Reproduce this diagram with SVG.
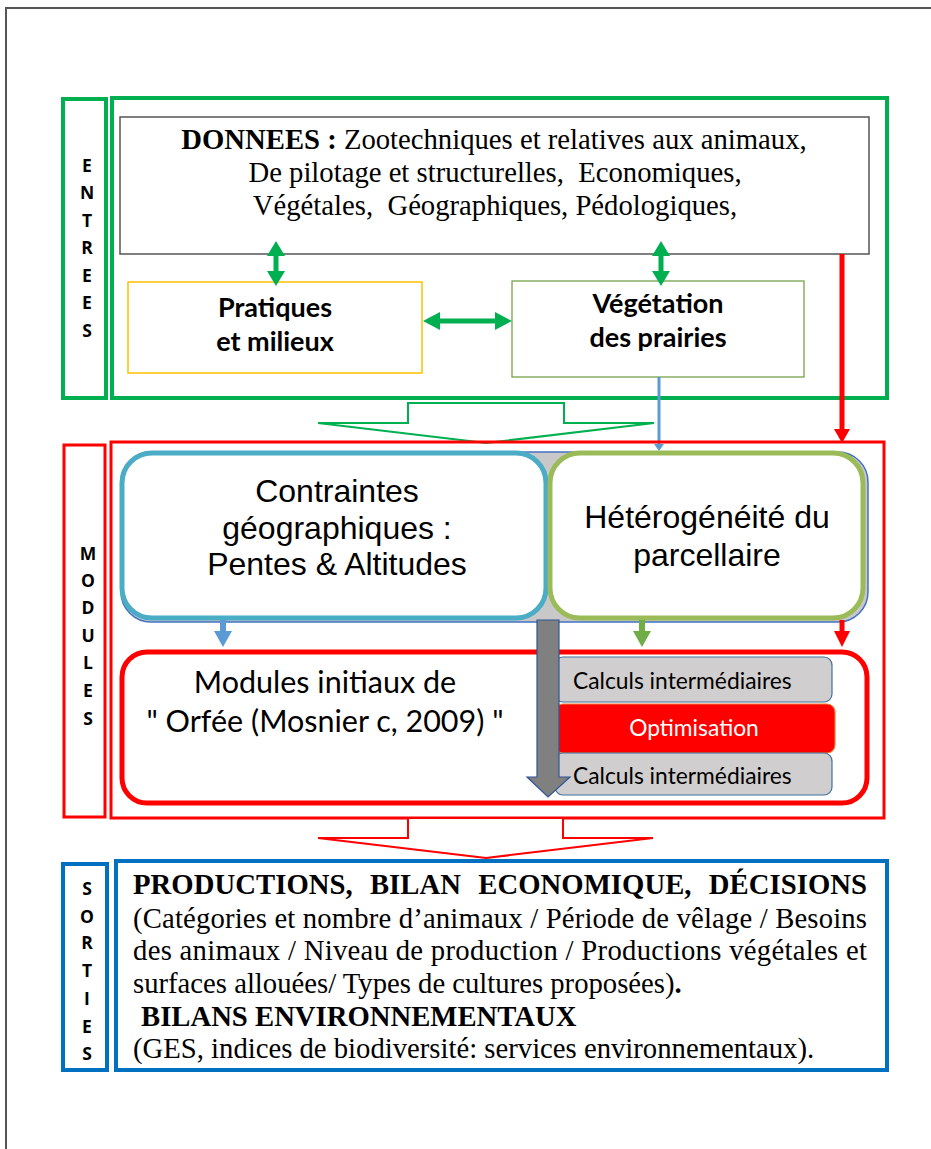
<svg xmlns="http://www.w3.org/2000/svg" width="931" height="1149" viewBox="0 0 931 1149">
<style>
.serif{font-family:"Liberation Serif","Times New Roman",serif;font-size:28.7px;fill:#000}
.sans{font-family:"Liberation Sans",Arial,sans-serif;font-size:32px;fill:#000}
.cal{font-family:Lato,"Open Sans",sans-serif;fill:#000}
.side{font-family:"Open Sans",Lato,sans-serif;font-weight:bold;font-size:17.5px;fill:#000;text-anchor:middle}
.b{font-weight:bold}
</style>
<rect width="931" height="1149" fill="#fff"/>
<path d="M6,1149 V8 H931" fill="none" stroke="#555" stroke-width="2"/>

<g id="entrees">
<rect x="63" y="99" width="43" height="299" fill="none" stroke="#00B050" stroke-width="4"/>
<text class="side"><tspan x="87" y="172">E</tspan><tspan x="87" y="199">N</tspan><tspan x="87" y="227">T</tspan><tspan x="87" y="254">R</tspan><tspan x="87" y="282">E</tspan><tspan x="87" y="309">E</tspan><tspan x="87" y="337">S</tspan></text>
<rect x="112" y="98" width="775" height="300" fill="none" stroke="#00B050" stroke-width="4"/>
</g>

<g id="donnees">
<rect x="120" y="117" width="749" height="137" fill="#fff" stroke="#555" stroke-width="1.5"/>
<text class="serif" text-anchor="middle"><tspan x="494" y="149"><tspan class="b">DONNEES :</tspan> Zootechniques et relatives aux animaux,</tspan><tspan x="495" y="182">De pilotage et structurelles, &#160;Economiques,</tspan><tspan x="495" y="215">Végétales, &#160;Géographiques, Pédologiques,</tspan></text>
</g>

<g id="pratiques">
<rect x="128" y="282" width="294" height="91" fill="#fff" stroke="#FFC000" stroke-width="1.5"/>
<text class="cal b" font-size="27" text-anchor="middle"><tspan x="275" y="317">Pratiques</tspan><tspan x="275" y="351">et milieux</tspan></text>
</g>

<g id="vegetation">
<rect x="512" y="281" width="292" height="96" fill="#fff" stroke="#6A9A3A" stroke-width="1.2"/>
<text class="cal b" font-size="27" text-anchor="middle"><tspan x="658" y="313">Végétation</tspan><tspan x="658" y="347">des prairies</tspan></text>
</g>

<g id="connectors">
<polygon points="276,241 285,256 278.5,256 278.5,271 285,271 276,286 267,271 273.5,271 273.5,256 267,256" fill="#00B050"/>
<polygon points="661,241 670,256 663.5,256 663.5,271 670,271 661,286 652,271 658.5,271 658.5,256 652,256" fill="#00B050"/>
<polygon points="423,321 440,312 440,318.5 495,318.5 495,312 512,321 495,330 495,323.5 440,323.5 440,330" fill="#00B050"/>
<line x1="842" y1="254" x2="842" y2="430" stroke="#FF0000" stroke-width="5"/>
<polygon points="834,429 850,429 842,443" fill="#FF0000"/>
<line x1="659" y1="377" x2="659" y2="446" stroke="#5B9BD5" stroke-width="3"/>
<polygon points="654,444 664,444 659,451" fill="#5B9BD5"/>
<polygon points="408,403 564,403 564,423 654,423 486,443 318,423 408,423" fill="#fff" stroke="#00B050" stroke-width="2"/>
</g>

<g id="modules">
<rect x="64" y="445" width="41" height="372" fill="none" stroke="#FF0000" stroke-width="3"/>
<text class="side"><tspan x="88" y="560">M</tspan><tspan x="88" y="587">O</tspan><tspan x="88" y="614">D</tspan><tspan x="88" y="642">U</tspan><tspan x="88" y="669">L</tspan><tspan x="88" y="697">E</tspan><tspan x="88" y="725">S</tspan></text>
<rect x="111" y="442" width="773" height="376" fill="none" stroke="#FF0000" stroke-width="3"/>
</g>

<g id="smartart-bg">
<rect x="121" y="452" width="747" height="170" rx="30" fill="#C8C8C8" stroke="#4472C4" stroke-width="1.5"/>
</g>

<g id="contraintes">
<rect x="122" y="453" width="424" height="165" rx="30" fill="#fff" stroke="#4BACC6" stroke-width="5"/>
<text class="sans" text-anchor="middle"><tspan x="337" y="502">Contraintes</tspan><tspan x="337" y="539">géographiques :</tspan><tspan x="337" y="575">Pentes &amp; Altitudes</tspan></text>
</g>

<g id="heterogeneite">
<rect x="550" y="453" width="313" height="165" rx="30" fill="#fff" stroke="#9BBB59" stroke-width="5"/>
<text class="sans" text-anchor="middle"><tspan x="707" y="528">Hétérogénéité du</tspan><tspan x="707" y="566">parcellaire</tspan></text>
</g>

<g id="connectors2">
<rect x="220" y="620" width="6" height="12" fill="#5B9BD5"/>
<polygon points="214,631 232,631 223,647" fill="#5B9BD5"/>
<rect x="639" y="620" width="6" height="12" fill="#70AD47"/>
<polygon points="633,631 651,631 642,647" fill="#70AD47"/>
<rect x="839.5" y="620" width="5" height="12" fill="#FF0000"/>
<polygon points="834,631 850,631 842,647" fill="#FF0000"/>
</g>

<g id="orfee">
<rect x="122" y="652" width="745" height="151" rx="25" fill="#fff" stroke="#FF0000" stroke-width="5"/>
<text class="cal" font-size="30.5" text-anchor="middle"><tspan x="325" y="693">Modules initiaux de</tspan><tspan x="325" y="732">" Orfée (Mosnier c, 2009) "</tspan></text>
</g>

<g id="calculs1">
<rect x="555" y="657" width="277" height="45" rx="8" fill="#D0CECE" stroke="#41719C" stroke-width="1.2"/>
<text class="cal" font-size="22.8" x="573" y="689">Calculs intermédiaires</text>
</g>
<g id="optimisation">
<rect x="555" y="704" width="280" height="49" rx="8" fill="#FF0000" stroke="#ED7D31" stroke-width="1.2"/>
<text class="cal" font-size="22.8" x="694" y="736" text-anchor="middle" style="fill:#fff">Optimisation</text>
</g>
<g id="calculs2">
<rect x="555" y="753" width="277" height="42" rx="8" fill="#D0CECE" stroke="#41719C" stroke-width="1.2"/>
<text class="cal" font-size="22.8" x="573" y="784">Calculs intermédiaires</text>
</g>

<g id="connectors3">
<polygon points="537,620 559,620 559,777 570,777 548,797 527,777 537,777" fill="#808080" stroke="#2F5597" stroke-width="1.2"/>
<polygon points="408,818 563,818 563,838 653,838 486,858 318,838 408,838" fill="#fff" stroke="#FF0000" stroke-width="2"/>
</g>

<g id="sorties">
<rect x="63" y="864" width="44" height="206" fill="none" stroke="#0070C0" stroke-width="4"/>
<text class="side"><tspan x="87" y="895">S</tspan><tspan x="87" y="923">O</tspan><tspan x="87" y="949">R</tspan><tspan x="87" y="977">T</tspan><tspan x="87" y="1005">I</tspan><tspan x="87" y="1033">E</tspan><tspan x="87" y="1060">S</tspan></text>
<rect x="116" y="861" width="771" height="209" fill="#fff" stroke="#0070C0" stroke-width="4"/>
<text class="serif b" x="133" y="894" word-spacing="10" textLength="734" lengthAdjust="spacing">PRODUCTIONS, BILAN ECONOMIQUE, DÉCISIONS</text>
<text class="serif" x="133" y="928" textLength="734" lengthAdjust="spacing">(Catégories et nombre d’animaux / Période de vêlage / Besoins</text>
<text class="serif" x="133" y="960" textLength="734" lengthAdjust="spacing">des animaux / Niveau de production / Productions végétales et</text>
<text class="serif" x="133" y="993">surfaces allouées/ Types de cultures proposées)<tspan class="b">.</tspan></text>
<text class="serif b" x="141" y="1026">BILANS ENVIRONNEMENTAUX</text>
<text class="serif" x="133" y="1058">(GES, indices de biodiversité: services environnementaux).</text>
</g>
</svg>
